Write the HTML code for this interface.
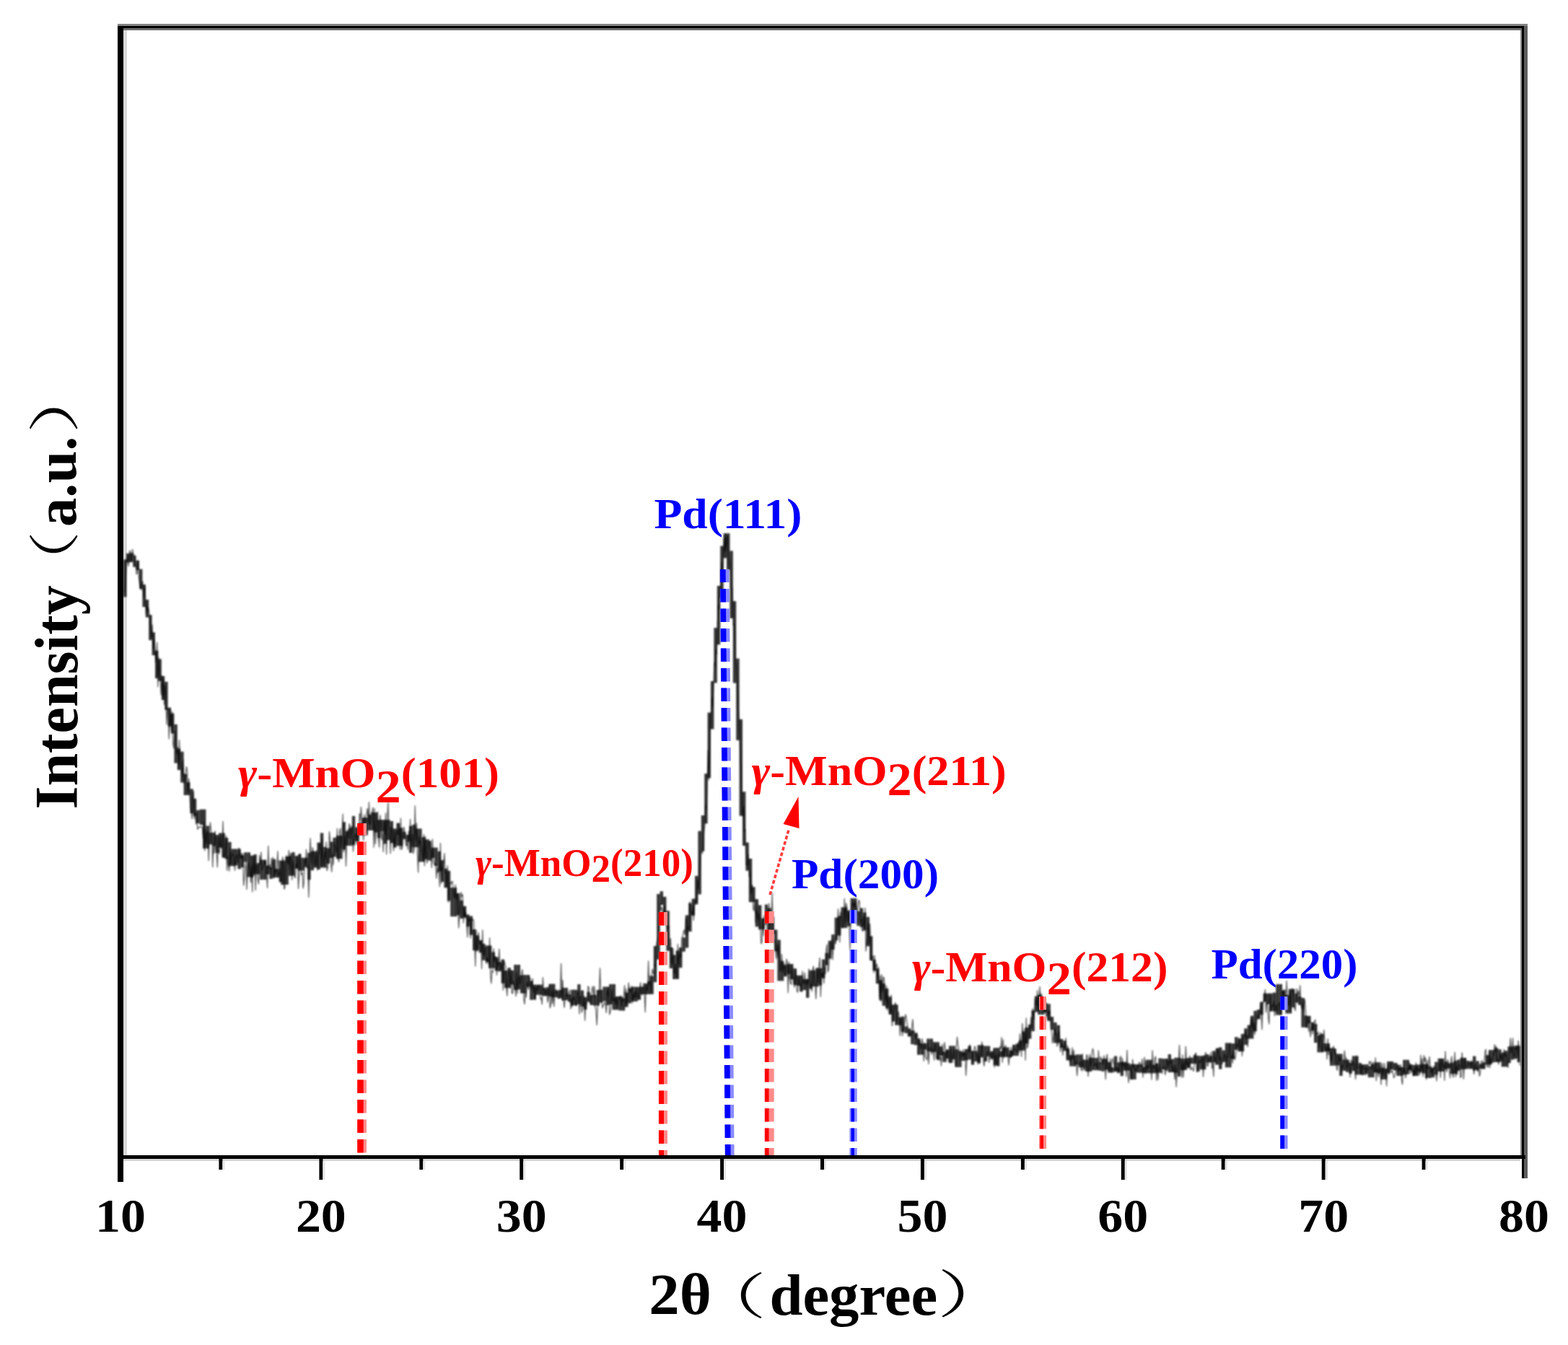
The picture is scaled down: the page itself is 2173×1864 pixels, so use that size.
<!DOCTYPE html>
<html><head><meta charset="utf-8"><style>
html,body{margin:0;padding:0;background:#fff;overflow:hidden}
svg{display:block}
text{font-family:"Liberation Serif","Noto Serif CJK SC",serif;font-weight:bold;fill:#000}
.r{fill:#ff0000}
.b{fill:#0000ff}
</style></head><body>
<svg width="2173" height="1864" viewBox="0 0 2173 1864">
<rect width="2173" height="1864" fill="#fff"/>

<rect x="163" y="36" width="1949" height="3" fill="#000"/>
<rect x="163" y="33" width="1954" height="3" fill="#848484"/>
<rect x="171" y="39" width="1938" height="3" fill="#6e6e6e"/>
<rect x="163" y="36" width="8" height="1602" fill="#000"/>
<rect x="171" y="42" width="5" height="1559" fill="#d9d9d9"/>
<rect x="2107" y="42" width="2" height="1559" fill="#8c8c8c"/>
<rect x="2109" y="36" width="3" height="1597" fill="#000"/>
<rect x="2112" y="36" width="5" height="1597" fill="#5e5e5e"/>
<rect x="163" y="1601" width="1951" height="5" fill="#000"/>
<rect x="171" y="1606" width="1936" height="3" fill="#d4d4d4"/>
<defs><filter id="bl" x="-1%" y="-5%" width="102%" height="110%"><feGaussianBlur stdDeviation="0.8"/></filter></defs><g fill="#000" fill-opacity="0.8" filter="url(#bl)"><rect x="171.0" y="775.4" width="4.4" height="51.9"/><rect x="175.4" y="767.2" width="4.4" height="12.3"/><rect x="179.8" y="766.3" width="4.4" height="12.5"/><rect x="184.2" y="770.1" width="4.4" height="15.6"/><rect x="188.6" y="776.6" width="4.4" height="13.4"/><rect x="193.0" y="788.7" width="4.4" height="27.3"/><rect x="197.4" y="810.0" width="4.4" height="31.2"/><rect x="201.8" y="831.1" width="4.4" height="24.5"/><rect x="206.2" y="852.2" width="4.4" height="35.0"/><rect x="210.6" y="876.3" width="4.4" height="31.8"/><rect x="215.0" y="901.8" width="4.4" height="38.3"/><rect x="219.4" y="913.3" width="4.4" height="30.6"/><rect x="223.8" y="936.9" width="4.4" height="33.2"/><rect x="228.2" y="944.8" width="4.4" height="39.0"/><rect x="232.6" y="980.6" width="4.4" height="26.1"/><rect x="237.0" y="988.7" width="4.4" height="27.8"/><rect x="241.4" y="1003.9" width="4.4" height="53.7"/><rect x="245.8" y="1037.5" width="4.4" height="29.6"/><rect x="250.2" y="1041.7" width="4.4" height="42.8"/><rect x="254.6" y="1072.6" width="4.4" height="29.4"/><rect x="259.0" y="1084.2" width="4.4" height="17.8"/><rect x="263.4" y="1093.3" width="4.4" height="33.8"/><rect x="267.8" y="1106.8" width="4.4" height="24.0"/><rect x="272.2" y="1122.8" width="4.4" height="18.1"/><rect x="276.6" y="1121.7" width="4.4" height="21.4"/><rect x="281.0" y="1121.7" width="4.4" height="54.2"/><rect x="285.4" y="1144.5" width="4.4" height="31.4"/><rect x="289.8" y="1153.9" width="4.4" height="16.3"/><rect x="294.2" y="1153.9" width="4.4" height="18.4"/><rect x="298.6" y="1157.0" width="4.4" height="25.0"/><rect x="303.0" y="1154.5" width="4.4" height="20.1"/><rect x="307.4" y="1154.5" width="4.4" height="33.9"/><rect x="311.8" y="1161.1" width="4.4" height="29.4"/><rect x="316.2" y="1166.9" width="4.4" height="33.4"/><rect x="320.6" y="1176.5" width="4.4" height="23.8"/><rect x="325.0" y="1176.5" width="4.4" height="22.9"/><rect x="329.4" y="1176.4" width="4.4" height="27.9"/><rect x="333.8" y="1185.3" width="4.4" height="16.9"/><rect x="338.2" y="1181.3" width="4.4" height="13.2"/><rect x="342.6" y="1181.3" width="4.4" height="34.1"/><rect x="347.0" y="1185.6" width="4.4" height="30.2"/><rect x="351.4" y="1184.1" width="4.4" height="27.4"/><rect x="355.8" y="1196.1" width="4.4" height="15.5"/><rect x="360.2" y="1191.5" width="4.4" height="27.6"/><rect x="364.6" y="1191.5" width="4.4" height="27.6"/><rect x="369.0" y="1199.5" width="4.4" height="12.4"/><rect x="373.4" y="1201.8" width="4.4" height="16.2"/><rect x="377.8" y="1190.7" width="4.4" height="25.5"/><rect x="382.2" y="1204.3" width="4.4" height="11.9"/><rect x="386.6" y="1192.5" width="4.4" height="29.8"/><rect x="391.0" y="1192.5" width="4.4" height="33.5"/><rect x="395.4" y="1187.0" width="4.4" height="39.0"/><rect x="399.8" y="1186.3" width="4.4" height="27.5"/><rect x="404.2" y="1181.1" width="4.4" height="32.4"/><rect x="408.6" y="1186.0" width="4.4" height="17.8"/><rect x="413.0" y="1183.7" width="4.4" height="22.9"/><rect x="417.4" y="1188.7" width="4.4" height="17.9"/><rect x="421.8" y="1188.7" width="4.4" height="13.2"/><rect x="426.2" y="1181.9" width="4.4" height="37.3"/><rect x="430.6" y="1179.7" width="4.4" height="26.5"/><rect x="435.0" y="1179.7" width="4.4" height="22.8"/><rect x="439.4" y="1167.7" width="4.4" height="37.3"/><rect x="443.8" y="1154.4" width="4.4" height="48.0"/><rect x="448.2" y="1173.8" width="4.4" height="28.7"/><rect x="452.6" y="1175.4" width="4.4" height="21.5"/><rect x="457.0" y="1166.5" width="4.4" height="22.5"/><rect x="461.4" y="1160.9" width="4.4" height="26.3"/><rect x="465.8" y="1158.1" width="4.4" height="32.1"/><rect x="470.2" y="1158.1" width="4.4" height="32.1"/><rect x="474.6" y="1139.2" width="4.4" height="38.3"/><rect x="479.0" y="1151.7" width="4.4" height="20.3"/><rect x="483.4" y="1147.3" width="4.4" height="24.8"/><rect x="487.8" y="1130.9" width="4.4" height="40.3"/><rect x="492.2" y="1146.5" width="4.4" height="19.8"/><rect x="496.6" y="1140.3" width="4.4" height="17.1"/><rect x="501.0" y="1133.2" width="4.4" height="24.2"/><rect x="505.4" y="1133.2" width="4.4" height="24.2"/><rect x="509.8" y="1128.9" width="4.4" height="22.0"/><rect x="514.2" y="1125.9" width="4.4" height="24.9"/><rect x="518.6" y="1125.9" width="4.4" height="27.7"/><rect x="523.0" y="1136.1" width="4.4" height="25.4"/><rect x="527.4" y="1136.1" width="4.4" height="16.1"/><rect x="531.8" y="1136.1" width="4.4" height="33.3"/><rect x="536.2" y="1136.1" width="4.4" height="28.2"/><rect x="540.6" y="1138.0" width="4.4" height="30.4"/><rect x="545.0" y="1148.3" width="4.4" height="26.4"/><rect x="549.4" y="1140.6" width="4.4" height="31.7"/><rect x="553.8" y="1147.2" width="4.4" height="25.1"/><rect x="558.2" y="1152.8" width="4.4" height="10.1"/><rect x="562.6" y="1156.8" width="4.4" height="10.0"/><rect x="567.0" y="1144.7" width="4.4" height="37.2"/><rect x="571.4" y="1142.8" width="4.4" height="31.3"/><rect x="575.8" y="1148.4" width="4.4" height="25.7"/><rect x="580.2" y="1148.4" width="4.4" height="46.0"/><rect x="584.6" y="1160.1" width="4.4" height="34.3"/><rect x="589.0" y="1163.3" width="4.4" height="27.5"/><rect x="593.4" y="1165.3" width="4.4" height="27.4"/><rect x="597.8" y="1174.7" width="4.4" height="14.3"/><rect x="602.2" y="1174.6" width="4.4" height="25.7"/><rect x="606.6" y="1179.8" width="4.4" height="27.7"/><rect x="611.0" y="1192.1" width="4.4" height="30.1"/><rect x="615.4" y="1203.7" width="4.4" height="26.6"/><rect x="619.8" y="1206.8" width="4.4" height="41.7"/><rect x="624.2" y="1230.1" width="4.4" height="40.1"/><rect x="628.6" y="1230.1" width="4.4" height="40.1"/><rect x="633.0" y="1237.8" width="4.4" height="30.7"/><rect x="637.4" y="1247.8" width="4.4" height="25.2"/><rect x="641.8" y="1255.7" width="4.4" height="15.6"/><rect x="646.2" y="1267.5" width="4.4" height="16.6"/><rect x="650.6" y="1269.5" width="4.4" height="26.2"/><rect x="655.0" y="1288.0" width="4.4" height="29.2"/><rect x="659.4" y="1296.3" width="4.4" height="20.9"/><rect x="663.8" y="1303.1" width="4.4" height="17.3"/><rect x="668.2" y="1307.9" width="4.4" height="22.9"/><rect x="672.6" y="1310.4" width="4.4" height="22.7"/><rect x="677.0" y="1310.4" width="4.4" height="31.4"/><rect x="681.4" y="1319.4" width="4.4" height="22.4"/><rect x="685.8" y="1326.2" width="4.4" height="19.3"/><rect x="690.2" y="1333.0" width="4.4" height="13.3"/><rect x="694.6" y="1329.6" width="4.4" height="33.2"/><rect x="699.0" y="1345.0" width="4.4" height="24.2"/><rect x="703.4" y="1341.2" width="4.4" height="27.9"/><rect x="707.8" y="1344.8" width="4.4" height="19.8"/><rect x="712.2" y="1337.0" width="4.4" height="35.0"/><rect x="716.6" y="1337.0" width="4.4" height="34.3"/><rect x="721.0" y="1351.4" width="4.4" height="25.2"/><rect x="725.4" y="1351.1" width="4.4" height="25.6"/><rect x="729.8" y="1351.1" width="4.4" height="16.6"/><rect x="734.2" y="1359.5" width="4.4" height="26.2"/><rect x="738.6" y="1364.6" width="4.4" height="21.0"/><rect x="743.0" y="1364.7" width="4.4" height="14.1"/><rect x="747.4" y="1364.7" width="4.4" height="14.1"/><rect x="751.8" y="1369.0" width="4.4" height="11.3"/><rect x="756.2" y="1368.2" width="4.4" height="12.1"/><rect x="760.6" y="1363.6" width="4.4" height="17.7"/><rect x="765.0" y="1363.6" width="4.4" height="18.3"/><rect x="769.4" y="1373.3" width="4.4" height="8.9"/><rect x="773.8" y="1371.9" width="4.4" height="11.7"/><rect x="778.2" y="1368.9" width="4.4" height="17.7"/><rect x="782.6" y="1368.9" width="4.4" height="17.3"/><rect x="787.0" y="1377.8" width="4.4" height="10.7"/><rect x="791.4" y="1371.6" width="4.4" height="21.8"/><rect x="795.8" y="1371.7" width="4.4" height="21.6"/><rect x="800.2" y="1364.1" width="4.4" height="27.7"/><rect x="804.6" y="1372.6" width="4.4" height="22.4"/><rect x="809.0" y="1381.9" width="4.4" height="17.1"/><rect x="813.4" y="1374.9" width="4.4" height="13.5"/><rect x="817.8" y="1378.8" width="4.4" height="14.2"/><rect x="822.2" y="1378.8" width="4.4" height="14.8"/><rect x="826.6" y="1371.9" width="4.4" height="21.7"/><rect x="831.0" y="1371.6" width="4.4" height="18.1"/><rect x="835.4" y="1367.5" width="4.4" height="20.1"/><rect x="839.8" y="1367.5" width="4.4" height="25.4"/><rect x="844.2" y="1363.9" width="4.4" height="28.1"/><rect x="848.6" y="1363.9" width="4.4" height="35.6"/><rect x="853.0" y="1381.0" width="4.4" height="18.5"/><rect x="857.4" y="1381.0" width="4.4" height="19.5"/><rect x="861.8" y="1383.4" width="4.4" height="17.2"/><rect x="866.2" y="1375.6" width="4.4" height="19.9"/><rect x="870.6" y="1369.5" width="4.4" height="21.0"/><rect x="875.0" y="1367.6" width="4.4" height="20.3"/><rect x="879.4" y="1367.6" width="4.4" height="20.3"/><rect x="883.8" y="1367.8" width="4.4" height="17.9"/><rect x="888.2" y="1367.5" width="4.4" height="10.5"/><rect x="892.6" y="1362.9" width="4.4" height="15.1"/><rect x="897.0" y="1359.8" width="4.4" height="18.1"/><rect x="901.4" y="1352.6" width="4.4" height="25.2"/><rect x="905.8" y="1311.1" width="4.4" height="50.1"/><rect x="910.2" y="1239.0" width="4.4" height="90.7"/><rect x="914.6" y="1235.2" width="4.4" height="18.8"/><rect x="919.0" y="1242.8" width="4.4" height="30.4"/><rect x="923.4" y="1262.3" width="4.4" height="55.5"/><rect x="927.8" y="1313.0" width="4.4" height="29.0"/><rect x="932.2" y="1323.4" width="4.4" height="33.6"/><rect x="936.6" y="1317.4" width="4.4" height="39.5"/><rect x="941.0" y="1313.2" width="4.4" height="28.0"/><rect x="945.4" y="1299.2" width="4.4" height="19.6"/><rect x="949.8" y="1268.3" width="4.4" height="45.2"/><rect x="954.2" y="1251.6" width="4.4" height="39.5"/><rect x="958.6" y="1245.5" width="4.4" height="23.2"/><rect x="963.0" y="1213.9" width="4.4" height="39.4"/><rect x="967.4" y="1151.7" width="4.4" height="87.7"/><rect x="971.8" y="1130.0" width="4.4" height="49.7"/><rect x="976.2" y="1072.2" width="4.4" height="69.2"/><rect x="980.6" y="987.5" width="4.4" height="90.8"/><rect x="985.0" y="944.1" width="4.4" height="66.4"/><rect x="989.4" y="870.1" width="4.4" height="76.3"/><rect x="993.8" y="811.9" width="4.4" height="81.4"/><rect x="998.2" y="756.6" width="4.4" height="72.0"/><rect x="1002.6" y="739.1" width="4.4" height="34.3"/><rect x="1007.0" y="739.1" width="4.4" height="50.6"/><rect x="1011.4" y="763.4" width="4.4" height="93.5"/><rect x="1015.8" y="833.1" width="4.4" height="113.5"/><rect x="1020.2" y="912.6" width="4.4" height="113.3"/><rect x="1024.6" y="996.8" width="4.4" height="133.9"/><rect x="1029.0" y="1097.2" width="4.4" height="74.9"/><rect x="1033.4" y="1167.6" width="4.4" height="39.1"/><rect x="1037.8" y="1190.0" width="4.4" height="60.2"/><rect x="1042.2" y="1229.3" width="4.4" height="20.9"/><rect x="1046.6" y="1246.1" width="4.4" height="38.2"/><rect x="1051.0" y="1254.4" width="4.4" height="33.8"/><rect x="1055.4" y="1272.5" width="4.4" height="15.6"/><rect x="1059.8" y="1253.5" width="4.4" height="19.9"/><rect x="1064.2" y="1258.4" width="4.4" height="32.0"/><rect x="1068.6" y="1270.5" width="4.4" height="24.0"/><rect x="1073.0" y="1288.5" width="4.4" height="29.8"/><rect x="1077.4" y="1302.5" width="4.4" height="56.9"/><rect x="1081.8" y="1331.7" width="4.4" height="27.7"/><rect x="1086.2" y="1337.3" width="4.4" height="15.8"/><rect x="1090.6" y="1335.9" width="4.4" height="14.0"/><rect x="1095.0" y="1335.9" width="4.4" height="21.4"/><rect x="1099.4" y="1342.1" width="4.4" height="23.1"/><rect x="1103.8" y="1351.7" width="4.4" height="14.3"/><rect x="1108.2" y="1351.7" width="4.4" height="22.7"/><rect x="1112.6" y="1357.1" width="4.4" height="15.0"/><rect x="1117.0" y="1357.1" width="4.4" height="25.7"/><rect x="1121.4" y="1344.7" width="4.4" height="25.9"/><rect x="1125.8" y="1344.7" width="4.4" height="22.6"/><rect x="1130.2" y="1341.7" width="4.4" height="25.6"/><rect x="1134.6" y="1341.7" width="4.4" height="24.0"/><rect x="1139.0" y="1329.6" width="4.4" height="26.1"/><rect x="1143.4" y="1320.7" width="4.4" height="16.9"/><rect x="1147.8" y="1303.8" width="4.4" height="24.9"/><rect x="1152.2" y="1295.1" width="4.4" height="20.8"/><rect x="1156.6" y="1271.7" width="4.4" height="31.6"/><rect x="1161.0" y="1269.4" width="4.4" height="27.2"/><rect x="1165.4" y="1257.4" width="4.4" height="28.6"/><rect x="1169.8" y="1257.4" width="4.4" height="28.6"/><rect x="1174.2" y="1261.6" width="4.4" height="22.0"/><rect x="1178.6" y="1244.9" width="4.4" height="30.6"/><rect x="1183.0" y="1244.9" width="4.4" height="34.2"/><rect x="1187.4" y="1263.0" width="4.4" height="20.1"/><rect x="1191.8" y="1258.5" width="4.4" height="26.4"/><rect x="1196.2" y="1264.6" width="4.4" height="25.0"/><rect x="1200.6" y="1270.8" width="4.4" height="40.5"/><rect x="1205.0" y="1297.3" width="4.4" height="33.6"/><rect x="1209.4" y="1330.1" width="4.4" height="15.1"/><rect x="1213.8" y="1342.4" width="4.4" height="20.9"/><rect x="1218.2" y="1358.4" width="4.4" height="27.8"/><rect x="1222.6" y="1363.2" width="4.4" height="30.7"/><rect x="1227.0" y="1370.0" width="4.4" height="27.6"/><rect x="1231.4" y="1381.3" width="4.4" height="24.6"/><rect x="1235.8" y="1392.3" width="4.4" height="23.3"/><rect x="1240.2" y="1392.3" width="4.4" height="28.5"/><rect x="1244.6" y="1409.6" width="4.4" height="11.3"/><rect x="1249.0" y="1408.7" width="4.4" height="21.4"/><rect x="1253.4" y="1422.4" width="4.4" height="9.5"/><rect x="1257.8" y="1425.4" width="4.4" height="11.1"/><rect x="1262.2" y="1428.1" width="4.4" height="19.1"/><rect x="1266.6" y="1431.9" width="4.4" height="16.4"/><rect x="1271.0" y="1439.2" width="4.4" height="22.6"/><rect x="1275.4" y="1446.1" width="4.4" height="15.6"/><rect x="1279.8" y="1446.1" width="4.4" height="8.4"/><rect x="1284.2" y="1439.5" width="4.4" height="17.5"/><rect x="1288.6" y="1439.5" width="4.4" height="18.3"/><rect x="1293.0" y="1444.1" width="4.4" height="13.7"/><rect x="1297.4" y="1444.1" width="4.4" height="24.4"/><rect x="1301.8" y="1450.2" width="4.4" height="12.8"/><rect x="1306.2" y="1457.6" width="4.4" height="14.2"/><rect x="1310.6" y="1454.9" width="4.4" height="12.2"/><rect x="1315.0" y="1449.4" width="4.4" height="23.8"/><rect x="1319.4" y="1449.4" width="4.4" height="18.7"/><rect x="1323.8" y="1454.2" width="4.4" height="24.7"/><rect x="1328.2" y="1456.4" width="4.4" height="22.5"/><rect x="1332.6" y="1458.5" width="4.4" height="11.6"/><rect x="1337.0" y="1453.9" width="4.4" height="15.6"/><rect x="1341.4" y="1449.5" width="4.4" height="19.0"/><rect x="1345.8" y="1456.4" width="4.4" height="19.3"/><rect x="1350.2" y="1456.4" width="4.4" height="14.8"/><rect x="1354.6" y="1448.4" width="4.4" height="24.8"/><rect x="1359.0" y="1448.4" width="4.4" height="16.9"/><rect x="1363.4" y="1449.6" width="4.4" height="21.1"/><rect x="1367.8" y="1449.6" width="4.4" height="14.6"/><rect x="1372.2" y="1456.8" width="4.4" height="10.6"/><rect x="1376.6" y="1452.2" width="4.4" height="24.4"/><rect x="1381.0" y="1452.2" width="4.4" height="25.3"/><rect x="1385.4" y="1456.7" width="4.4" height="8.2"/><rect x="1389.8" y="1451.5" width="4.4" height="13.3"/><rect x="1394.2" y="1451.5" width="4.4" height="13.5"/><rect x="1398.6" y="1455.6" width="4.4" height="9.4"/><rect x="1403.0" y="1447.8" width="4.4" height="15.4"/><rect x="1407.4" y="1446.7" width="4.4" height="16.5"/><rect x="1411.8" y="1441.8" width="4.4" height="14.1"/><rect x="1416.2" y="1429.4" width="4.4" height="26.5"/><rect x="1420.6" y="1423.9" width="4.4" height="22.5"/><rect x="1425.0" y="1419.8" width="4.4" height="19.8"/><rect x="1429.4" y="1400.6" width="4.4" height="28.6"/><rect x="1433.8" y="1380.6" width="4.4" height="22.0"/><rect x="1438.2" y="1378.5" width="4.4" height="27.7"/><rect x="1442.6" y="1381.9" width="4.4" height="24.3"/><rect x="1447.0" y="1390.1" width="4.4" height="12.8"/><rect x="1451.4" y="1391.3" width="4.4" height="23.6"/><rect x="1455.8" y="1409.2" width="4.4" height="18.1"/><rect x="1460.2" y="1417.0" width="4.4" height="28.5"/><rect x="1464.6" y="1420.8" width="4.4" height="24.6"/><rect x="1469.0" y="1439.9" width="4.4" height="12.1"/><rect x="1473.4" y="1442.3" width="4.4" height="14.1"/><rect x="1477.8" y="1452.8" width="4.4" height="16.8"/><rect x="1482.2" y="1462.0" width="4.4" height="15.7"/><rect x="1486.6" y="1462.4" width="4.4" height="15.4"/><rect x="1491.0" y="1461.4" width="4.4" height="14.3"/><rect x="1495.4" y="1461.4" width="4.4" height="17.9"/><rect x="1499.8" y="1468.6" width="4.4" height="10.6"/><rect x="1504.2" y="1468.6" width="4.4" height="16.5"/><rect x="1508.6" y="1465.5" width="4.4" height="19.6"/><rect x="1513.0" y="1466.0" width="4.4" height="17.2"/><rect x="1517.4" y="1466.1" width="4.4" height="17.2"/><rect x="1521.8" y="1471.7" width="4.4" height="12.0"/><rect x="1526.2" y="1467.4" width="4.4" height="17.4"/><rect x="1530.6" y="1467.4" width="4.4" height="15.3"/><rect x="1535.0" y="1471.9" width="4.4" height="14.5"/><rect x="1539.4" y="1479.2" width="4.4" height="7.1"/><rect x="1543.8" y="1463.6" width="4.4" height="21.0"/><rect x="1548.2" y="1472.2" width="4.4" height="13.9"/><rect x="1552.6" y="1471.6" width="4.4" height="19.6"/><rect x="1557.0" y="1471.6" width="4.4" height="12.2"/><rect x="1561.4" y="1473.4" width="4.4" height="10.3"/><rect x="1565.8" y="1474.7" width="4.4" height="21.3"/><rect x="1570.2" y="1474.7" width="4.4" height="21.3"/><rect x="1574.6" y="1475.2" width="4.4" height="11.4"/><rect x="1579.0" y="1475.2" width="4.4" height="11.6"/><rect x="1583.4" y="1478.8" width="4.4" height="8.3"/><rect x="1587.8" y="1468.7" width="4.4" height="18.5"/><rect x="1592.2" y="1468.7" width="4.4" height="18.7"/><rect x="1596.6" y="1475.7" width="4.4" height="11.7"/><rect x="1601.0" y="1473.7" width="4.4" height="13.0"/><rect x="1605.4" y="1466.6" width="4.4" height="20.1"/><rect x="1609.8" y="1467.2" width="4.4" height="14.8"/><rect x="1614.2" y="1467.2" width="4.4" height="16.4"/><rect x="1618.6" y="1461.1" width="4.4" height="25.0"/><rect x="1623.0" y="1467.7" width="4.4" height="18.3"/><rect x="1627.4" y="1465.8" width="4.4" height="21.3"/><rect x="1631.8" y="1465.8" width="4.4" height="26.1"/><rect x="1636.2" y="1467.1" width="4.4" height="15.9"/><rect x="1640.6" y="1467.1" width="4.4" height="15.9"/><rect x="1645.0" y="1466.1" width="4.4" height="13.7"/><rect x="1649.4" y="1465.7" width="4.4" height="8.6"/><rect x="1653.8" y="1462.0" width="4.4" height="12.2"/><rect x="1658.2" y="1463.1" width="4.4" height="22.1"/><rect x="1662.6" y="1463.3" width="4.4" height="18.9"/><rect x="1667.0" y="1462.6" width="4.4" height="19.6"/><rect x="1671.4" y="1461.3" width="4.4" height="11.3"/><rect x="1675.8" y="1463.4" width="4.4" height="9.2"/><rect x="1680.2" y="1456.4" width="4.4" height="15.8"/><rect x="1684.6" y="1452.9" width="4.4" height="22.7"/><rect x="1689.0" y="1451.4" width="4.4" height="30.3"/><rect x="1693.4" y="1455.5" width="4.4" height="16.4"/><rect x="1697.8" y="1445.4" width="4.4" height="33.9"/><rect x="1702.2" y="1445.4" width="4.4" height="33.9"/><rect x="1706.6" y="1446.1" width="4.4" height="21.5"/><rect x="1711.0" y="1437.2" width="4.4" height="17.7"/><rect x="1715.4" y="1439.4" width="4.4" height="17.9"/><rect x="1719.8" y="1432.9" width="4.4" height="24.3"/><rect x="1724.2" y="1425.3" width="4.4" height="22.8"/><rect x="1728.6" y="1420.6" width="4.4" height="18.9"/><rect x="1733.0" y="1407.8" width="4.4" height="31.7"/><rect x="1737.4" y="1400.8" width="4.4" height="28.5"/><rect x="1741.8" y="1399.2" width="4.4" height="13.2"/><rect x="1746.2" y="1388.4" width="4.4" height="17.9"/><rect x="1750.6" y="1376.6" width="4.4" height="11.9"/><rect x="1755.0" y="1376.7" width="4.4" height="14.9"/><rect x="1759.4" y="1376.7" width="4.4" height="24.9"/><rect x="1763.8" y="1375.6" width="4.4" height="25.9"/><rect x="1768.2" y="1363.9" width="4.4" height="42.8"/><rect x="1772.6" y="1363.9" width="4.4" height="42.8"/><rect x="1777.0" y="1372.3" width="4.4" height="16.2"/><rect x="1781.4" y="1378.9" width="4.4" height="25.6"/><rect x="1785.8" y="1370.6" width="4.4" height="33.9"/><rect x="1790.2" y="1370.6" width="4.4" height="25.7"/><rect x="1794.6" y="1376.7" width="4.4" height="12.9"/><rect x="1799.0" y="1381.1" width="4.4" height="11.7"/><rect x="1803.4" y="1382.9" width="4.4" height="40.9"/><rect x="1807.8" y="1407.5" width="4.4" height="16.4"/><rect x="1812.2" y="1407.9" width="4.4" height="10.3"/><rect x="1816.6" y="1416.8" width="4.4" height="11.6"/><rect x="1821.0" y="1419.0" width="4.4" height="26.1"/><rect x="1825.4" y="1435.0" width="4.4" height="23.4"/><rect x="1829.8" y="1432.7" width="4.4" height="25.7"/><rect x="1834.2" y="1446.0" width="4.4" height="11.5"/><rect x="1838.6" y="1446.0" width="4.4" height="11.0"/><rect x="1843.0" y="1452.4" width="4.4" height="24.5"/><rect x="1847.4" y="1453.1" width="4.4" height="23.7"/><rect x="1851.8" y="1460.5" width="4.4" height="16.1"/><rect x="1856.2" y="1460.5" width="4.4" height="30.5"/><rect x="1860.6" y="1468.4" width="4.4" height="15.5"/><rect x="1865.0" y="1468.4" width="4.4" height="17.4"/><rect x="1869.4" y="1473.0" width="4.4" height="15.0"/><rect x="1873.8" y="1463.5" width="4.4" height="20.7"/><rect x="1878.2" y="1463.5" width="4.4" height="25.9"/><rect x="1882.6" y="1473.1" width="4.4" height="16.3"/><rect x="1887.0" y="1475.1" width="4.4" height="14.8"/><rect x="1891.4" y="1475.1" width="4.4" height="13.2"/><rect x="1895.8" y="1477.6" width="4.4" height="15.5"/><rect x="1900.2" y="1474.6" width="4.4" height="18.5"/><rect x="1904.6" y="1472.2" width="4.4" height="14.0"/><rect x="1909.0" y="1472.2" width="4.4" height="15.3"/><rect x="1913.4" y="1479.8" width="4.4" height="16.2"/><rect x="1917.8" y="1480.8" width="4.4" height="15.1"/><rect x="1922.2" y="1471.0" width="4.4" height="16.4"/><rect x="1926.6" y="1471.0" width="4.4" height="11.0"/><rect x="1931.0" y="1473.0" width="4.4" height="10.6"/><rect x="1935.4" y="1475.6" width="4.4" height="15.4"/><rect x="1939.8" y="1478.8" width="4.4" height="12.2"/><rect x="1944.2" y="1468.8" width="4.4" height="20.6"/><rect x="1948.6" y="1468.8" width="4.4" height="20.0"/><rect x="1953.0" y="1475.2" width="4.4" height="8.1"/><rect x="1957.4" y="1475.9" width="4.4" height="15.2"/><rect x="1961.8" y="1475.4" width="4.4" height="15.6"/><rect x="1966.2" y="1475.4" width="4.4" height="10.9"/><rect x="1970.6" y="1474.7" width="4.4" height="13.0"/><rect x="1975.0" y="1474.7" width="4.4" height="19.3"/><rect x="1979.4" y="1477.6" width="4.4" height="16.4"/><rect x="1983.8" y="1480.0" width="4.4" height="13.2"/><rect x="1988.2" y="1471.7" width="4.4" height="17.7"/><rect x="1992.6" y="1466.9" width="4.4" height="18.1"/><rect x="1997.0" y="1466.9" width="4.4" height="18.1"/><rect x="2001.4" y="1471.4" width="4.4" height="10.2"/><rect x="2005.8" y="1473.4" width="4.4" height="7.4"/><rect x="2010.2" y="1472.6" width="4.4" height="15.6"/><rect x="2014.6" y="1470.2" width="4.4" height="18.0"/><rect x="2019.0" y="1468.6" width="4.4" height="15.2"/><rect x="2023.4" y="1466.1" width="4.4" height="15.8"/><rect x="2027.8" y="1466.1" width="4.4" height="15.8"/><rect x="2032.2" y="1470.1" width="4.4" height="11.2"/><rect x="2036.6" y="1471.1" width="4.4" height="10.3"/><rect x="2041.0" y="1463.7" width="4.4" height="19.7"/><rect x="2045.4" y="1470.4" width="4.4" height="12.9"/><rect x="2049.8" y="1474.6" width="4.4" height="6.4"/><rect x="2054.2" y="1472.2" width="4.4" height="9.2"/><rect x="2058.6" y="1462.2" width="4.4" height="13.4"/><rect x="2063.0" y="1455.1" width="4.4" height="20.4"/><rect x="2067.4" y="1455.1" width="4.4" height="17.2"/><rect x="2071.8" y="1452.3" width="4.4" height="19.6"/><rect x="2076.2" y="1454.3" width="4.4" height="17.5"/><rect x="2080.6" y="1458.5" width="4.4" height="19.9"/><rect x="2085.0" y="1456.2" width="4.4" height="22.2"/><rect x="2089.4" y="1450.3" width="4.4" height="22.9"/><rect x="2093.8" y="1450.3" width="4.4" height="18.3"/><rect x="2098.2" y="1449.2" width="4.4" height="18.3"/><rect x="2102.6" y="1449.2" width="4.4" height="23.0"/><polyline points="171.5,821.2 172.6,817.8 173.7,813.6 174.8,789.4 175.9,766.6 177.0,777.6 178.1,785.0 179.2,766.1 180.3,762.8 181.4,779.7 182.5,771.9 183.6,761.1 184.7,769.5 185.8,768.5 186.9,781.6 188.0,782.7 189.1,795.6 190.2,794.8 191.3,777.1 192.4,800.3 193.5,809.6 194.6,809.4 195.7,818.3 196.8,806.4 197.9,806.0 199.0,828.1 200.1,815.0 201.2,813.8 202.3,851.2 203.4,839.0 204.5,846.9 205.6,841.8 206.7,848.9 207.8,857.3 208.9,871.3 210.0,884.6 211.1,865.5 212.2,900.1 213.3,886.7 214.4,892.3 215.5,918.5 216.6,910.3 217.7,889.9 218.8,952.3 219.9,910.7 221.0,934.2 222.1,938.0 223.2,963.3 224.3,936.0 225.4,965.7 226.5,940.4 227.6,977.0 228.7,949.4 229.8,960.9 230.9,1004.2 232.0,981.9 233.1,983.2 234.2,1024.5 235.3,997.3 236.4,982.0 237.5,1013.5 238.6,985.8 239.7,1030.5 240.8,1037.4 241.9,1012.9 243.0,1019.1 244.1,1040.7 245.2,1045.5 246.3,1035.1 247.4,1066.2 248.5,1025.2 249.6,1055.8 250.7,1059.1 251.8,1063.8 252.9,1076.2 254.0,1052.5 255.1,1086.2 256.2,1076.1 257.3,1071.2 258.4,1062.2 259.5,1068.6 260.6,1098.3 261.7,1079.0 262.8,1099.9 263.9,1120.3 265.0,1123.0 266.1,1135.2 267.2,1106.5 268.3,1096.0 269.4,1135.0 270.5,1125.9 271.6,1142.8 272.7,1126.7 273.8,1149.8 274.9,1146.5 276.0,1146.9 277.1,1145.7 278.2,1146.2 279.3,1145.6 280.4,1147.6 281.5,1162.7 282.6,1139.1 283.7,1179.5 284.8,1149.8 285.9,1170.3 287.0,1153.7 288.1,1152.6 289.2,1193.2 290.3,1154.6 291.4,1139.4 292.5,1150.4 293.6,1158.4 294.7,1201.9 295.8,1169.7 296.9,1183.3 298.0,1151.3 299.1,1175.5 300.2,1182.0 301.3,1202.3 302.4,1160.5 303.5,1183.7 304.6,1179.5 305.7,1157.7 306.8,1175.7 307.9,1172.4 309.0,1137.9 310.1,1188.7 311.2,1188.5 312.3,1172.5 313.4,1157.9 314.5,1206.8 315.6,1186.7 316.7,1200.2 317.8,1207.6 318.9,1175.2 320.0,1198.7 321.1,1181.2 322.2,1184.9 323.3,1185.1 324.4,1187.1 325.5,1206.7 326.6,1190.3 327.7,1186.1 328.8,1184.5 329.9,1195.6 331.0,1174.9 332.1,1182.2 333.2,1190.4 334.3,1182.1 335.4,1190.3 336.5,1182.4 337.6,1227.6 338.7,1216.6 339.8,1202.1 340.9,1194.1 342.0,1233.0 343.1,1201.7 344.2,1195.3 345.3,1202.7 346.4,1203.5 347.5,1223.2 348.6,1199.5 349.7,1236.5 350.8,1186.2 351.9,1213.9 353.0,1185.5 354.1,1234.2 355.2,1197.9 356.3,1202.9 357.4,1219.9 358.5,1225.6 359.6,1185.3 360.7,1198.5 361.8,1180.6 362.9,1206.9 364.0,1202.9 365.1,1198.7 366.2,1193.0 367.3,1198.2 368.4,1192.1 369.5,1214.0 370.6,1230.9 371.7,1172.0 372.8,1203.1 373.9,1198.0 375.0,1213.7 376.1,1189.0 377.2,1202.9 378.3,1187.7 379.4,1217.4 380.5,1207.3 381.6,1202.9 382.7,1212.0 383.8,1201.6 384.9,1179.3 386.0,1216.1 387.1,1210.8 388.2,1203.3 389.3,1222.8 390.4,1226.8 391.5,1187.3 392.6,1192.6 393.7,1232.4 394.8,1230.1 395.9,1193.1 397.0,1185.4 398.1,1194.6 399.2,1196.8 400.3,1178.0 401.4,1205.4 402.5,1182.7 403.6,1183.7 404.7,1219.8 405.8,1192.2 406.9,1202.4 408.0,1214.1 409.1,1217.0 410.2,1197.1 411.3,1203.4 412.4,1188.2 413.5,1231.9 414.6,1212.9 415.7,1182.6 416.8,1201.3 417.9,1213.1 419.0,1208.7 420.1,1231.5 421.2,1223.4 422.3,1190.3 423.4,1197.7 424.5,1176.9 425.6,1202.7 426.7,1200.7 427.8,1244.0 428.9,1199.0 430.0,1161.2 431.1,1185.1 432.2,1198.1 433.3,1174.3 434.4,1180.5 435.5,1188.7 436.6,1200.3 437.7,1191.2 438.8,1178.3 439.9,1206.5 441.0,1183.3 442.1,1183.4 443.2,1167.8 444.3,1177.4 445.4,1201.4 446.5,1161.9 447.6,1187.6 448.7,1200.3 449.8,1180.8 450.9,1190.5 452.0,1166.5 453.1,1207.1 454.2,1202.7 455.3,1187.0 456.4,1152.1 457.5,1163.3 458.6,1197.0 459.7,1208.7 460.8,1183.7 461.9,1199.1 463.0,1166.6 464.1,1173.0 465.2,1175.4 466.3,1181.9 467.4,1147.8 468.5,1189.2 469.6,1195.0 470.7,1152.0 471.8,1147.7 472.9,1176.0 474.0,1158.0 475.1,1127.8 476.2,1181.3 477.3,1169.2 478.4,1157.4 479.5,1200.7 480.6,1165.7 481.7,1149.2 482.8,1162.4 483.9,1141.4 485.0,1144.7 486.1,1162.8 487.2,1145.2 488.3,1145.5 489.4,1180.4 490.5,1165.2 491.6,1163.1 492.7,1157.3 493.8,1155.6 494.9,1171.2 496.0,1145.0 497.1,1176.0 498.2,1127.1 499.3,1138.1 500.4,1118.1 501.5,1135.1 502.6,1149.4 503.7,1165.0 504.8,1128.7 505.9,1140.1 507.0,1134.0 508.1,1127.6 509.2,1120.1 510.3,1141.6 511.4,1111.2 512.5,1143.0 513.6,1141.8 514.7,1130.5 515.8,1124.8 516.9,1118.8 518.0,1174.8 519.1,1120.2 520.2,1170.1 521.3,1154.1 522.4,1137.9 523.5,1124.6 524.6,1162.6 525.7,1174.6 526.8,1129.4 527.9,1140.6 529.0,1164.1 530.1,1152.2 531.2,1181.0 532.3,1137.4 533.4,1156.8 534.5,1126.6 535.6,1184.2 536.7,1136.3 537.8,1111.4 538.9,1147.4 540.0,1147.6 541.1,1183.2 542.2,1145.1 543.3,1151.2 544.4,1162.1 545.5,1179.6 546.6,1151.9 547.7,1171.4 548.8,1163.0 549.9,1149.6 551.0,1156.6 552.1,1156.3 553.2,1140.7 554.3,1177.6 555.4,1133.6 556.5,1177.8 557.6,1174.6 558.7,1157.0 559.8,1145.9 560.9,1155.5 562.0,1167.8 563.1,1172.8 564.2,1165.3 565.3,1177.7 566.4,1151.5 567.5,1165.4 568.6,1134.9 569.7,1175.1 570.8,1165.1 571.9,1155.8 573.0,1183.2 574.1,1175.6 575.2,1116.2 576.3,1165.6 577.4,1140.6 578.5,1184.4 579.6,1209.5 580.7,1158.8 581.8,1169.7 582.9,1164.9 584.0,1176.1 585.1,1182.0 586.2,1193.9 587.3,1155.9 588.4,1200.6 589.5,1158.8 590.6,1180.4 591.7,1196.5 592.8,1189.9 593.9,1162.8 595.0,1167.9 596.1,1173.1 597.2,1181.3 598.3,1203.0 599.4,1162.5 600.5,1193.9 601.6,1197.7 602.7,1198.2 603.8,1198.1 604.9,1217.6 606.0,1201.6 607.1,1209.6 608.2,1206.3 609.3,1229.2 610.4,1168.1 611.5,1224.9 612.6,1201.1 613.7,1203.5 614.8,1194.6 615.9,1182.2 617.0,1210.2 618.1,1207.6 619.2,1230.1 620.3,1199.6 621.4,1250.7 622.5,1233.9 623.6,1227.8 624.7,1222.7 625.8,1223.9 626.9,1220.8 628.0,1232.9 629.1,1244.2 630.2,1243.5 631.3,1225.7 632.4,1246.5 633.5,1238.4 634.6,1257.3 635.7,1286.5 636.8,1268.5 637.9,1255.4 639.0,1236.4 640.1,1241.8 641.2,1239.4 642.3,1279.4 643.4,1257.8 644.5,1272.7 645.6,1263.9 646.7,1277.1 647.8,1299.4 648.9,1269.2 650.0,1276.8 651.1,1272.2 652.2,1300.6 653.3,1274.3 654.4,1275.3 655.5,1274.0 656.6,1276.0 657.7,1306.3 658.8,1339.6 659.9,1288.3 661.0,1319.1 662.1,1310.4 663.2,1292.1 664.3,1306.0 665.4,1308.3 666.5,1303.2 667.6,1343.1 668.7,1288.6 669.8,1323.4 670.9,1324.1 672.0,1312.3 673.1,1324.2 674.2,1336.0 675.3,1326.9 676.4,1332.0 677.5,1337.1 678.6,1299.5 679.7,1350.7 680.8,1363.1 681.9,1345.8 683.0,1347.3 684.1,1314.2 685.2,1333.5 686.3,1324.8 687.4,1329.0 688.5,1351.8 689.6,1328.1 690.7,1338.6 691.8,1314.9 692.9,1340.3 694.0,1344.8 695.1,1334.8 696.2,1335.7 697.3,1372.7 698.4,1331.1 699.5,1334.4 700.6,1338.7 701.7,1367.2 702.8,1380.4 703.9,1357.3 705.0,1343.9 706.1,1348.8 707.2,1369.8 708.3,1343.9 709.4,1376.5 710.5,1376.7 711.6,1359.3 712.7,1367.7 713.8,1369.7 714.9,1381.1 716.0,1346.8 717.1,1377.2 718.2,1357.0 719.3,1352.3 720.4,1364.4 721.5,1360.7 722.6,1351.0 723.7,1343.4 724.8,1352.6 725.9,1384.8 727.0,1392.0 728.1,1375.0 729.2,1382.5 730.3,1360.5 731.4,1366.7 732.5,1371.8 733.6,1354.2 734.7,1355.8 735.8,1370.4 736.9,1365.3 738.0,1355.9 739.1,1375.3 740.2,1367.1 741.3,1384.4 742.4,1371.3 743.5,1367.9 744.6,1373.9 745.7,1370.5 746.8,1364.6 747.9,1368.6 749.0,1384.1 750.1,1383.4 751.2,1392.3 752.3,1354.3 753.4,1371.7 754.5,1372.0 755.6,1380.1 756.7,1372.6 757.8,1372.3 758.9,1389.3 760.0,1381.9 761.1,1364.9 762.2,1397.2 763.3,1393.1 764.4,1373.1 765.5,1391.3 766.6,1371.3 767.7,1395.3 768.8,1378.2 769.9,1370.8 771.0,1376.4 772.1,1371.5 773.2,1383.9 774.3,1383.8 775.4,1382.1 776.5,1374.6 777.6,1335.0 778.7,1383.2 779.8,1357.9 780.9,1385.3 782.0,1396.8 783.1,1386.0 784.2,1377.7 785.3,1380.5 786.4,1381.2 787.5,1376.1 788.6,1375.8 789.7,1371.6 790.8,1398.6 791.9,1383.4 793.0,1395.9 794.1,1380.7 795.2,1384.9 796.3,1381.9 797.4,1390.0 798.5,1394.7 799.6,1387.3 800.7,1375.8 801.8,1374.5 802.9,1405.6 804.0,1381.1 805.1,1381.0 806.2,1403.4 807.3,1398.6 808.4,1391.6 809.5,1379.8 810.6,1414.8 811.7,1390.0 812.8,1391.9 813.9,1382.8 815.0,1367.0 816.1,1368.1 817.2,1390.2 818.3,1390.0 819.4,1382.0 820.5,1370.1 821.6,1366.7 822.7,1380.8 823.8,1366.5 824.9,1396.4 826.0,1399.6 827.1,1420.9 828.2,1396.1 829.3,1377.5 830.4,1373.9 831.5,1341.2 832.6,1377.5 833.7,1382.8 834.8,1397.4 835.9,1393.0 837.0,1392.7 838.1,1388.1 839.2,1393.8 840.3,1403.9 841.4,1372.1 842.5,1379.9 843.6,1368.2 844.7,1406.4 845.8,1402.4 846.9,1395.5 848.0,1370.8 849.1,1388.2 850.2,1383.0 851.3,1387.0 852.4,1383.5 853.5,1392.4 854.6,1380.7 855.7,1396.4 856.8,1388.5 857.9,1381.6 859.0,1383.7 860.1,1379.4 861.2,1395.1 862.3,1381.2 863.4,1388.2 864.5,1379.3 865.6,1365.2 866.7,1395.4 867.8,1370.2 868.9,1392.0 870.0,1388.5 871.1,1361.7 872.2,1370.4 873.3,1375.5 874.4,1371.2 875.5,1366.2 876.6,1390.3 877.7,1377.3 878.8,1384.9 879.9,1373.9 881.0,1382.9 882.1,1368.8 883.2,1377.6 884.3,1384.9 885.4,1377.4 886.5,1370.2 887.6,1361.4 888.7,1377.0 889.8,1378.6 890.9,1369.9 892.0,1362.4 893.1,1378.6 894.2,1403.0 895.3,1365.5 896.4,1372.7 897.5,1372.0 898.6,1331.4 899.7,1365.1 900.8,1351.8 901.9,1377.5 903.0,1352.8 904.1,1342.9 905.2,1347.8 906.3,1350.2 907.4,1336.4 908.5,1338.3 909.6,1309.4 910.7,1303.6 911.8,1299.7 912.9,1299.4 914.0,1265.0 915.1,1251.7 916.2,1262.4 917.3,1257.2 918.4,1267.9 919.5,1264.7 920.6,1255.1 921.7,1269.3 922.8,1273.9 923.9,1281.5 925.0,1287.1 926.1,1285.2 927.2,1282.4 928.3,1314.9 929.4,1300.2 930.5,1333.8 931.6,1335.8 932.7,1314.0 933.8,1347.6 934.9,1349.0 936.0,1335.8 937.1,1355.0 938.2,1354.8 939.3,1308.0 940.4,1337.4 941.5,1326.0 942.6,1322.7 943.7,1327.2 944.8,1299.8 945.9,1298.5 947.0,1291.6 948.1,1289.3 949.2,1295.8 950.3,1272.0 951.4,1275.0 952.5,1296.7 953.6,1283.8 954.7,1287.8 955.8,1249.5 956.9,1263.3 958.0,1263.3 959.1,1268.9 960.2,1255.5 961.3,1275.7 962.4,1255.7 963.5,1251.9 964.6,1246.0 965.7,1249.5 966.8,1218.6 967.9,1233.3 969.0,1210.4 970.1,1193.1 971.2,1180.1 972.3,1180.0 973.4,1182.4 974.5,1174.3 975.6,1153.2 976.7,1144.1 977.8,1115.5 978.9,1122.1 980.0,1088.1 981.1,1039.7 982.2,1081.6 983.3,1037.8 984.4,991.3 985.5,988.9 986.6,966.2 987.7,980.1 988.8,951.3 989.9,918.2 991.0,923.8 992.1,900.1 993.2,907.2 994.3,864.2 995.4,838.0 996.5,845.1 997.6,825.7 998.7,809.7 999.8,778.7 1000.9,789.9 1002.0,789.8 1003.1,745.0 1004.2,765.7 1005.3,741.3 1006.4,763.3 1007.5,744.7 1008.6,743.5 1009.7,763.9 1010.8,775.1 1011.9,785.3 1013.0,812.6 1014.1,814.2 1015.2,815.4 1016.3,866.9 1017.4,863.7 1018.5,885.2 1019.6,918.9 1020.7,922.8 1021.8,945.2 1022.9,973.7 1024.0,995.0 1025.1,1022.6 1026.2,1055.8 1027.3,1067.3 1028.4,1111.3 1029.5,1131.9 1030.6,1117.1 1031.7,1151.9 1032.8,1150.1 1033.9,1198.4 1035.0,1197.8 1036.1,1198.6 1037.2,1183.2 1038.3,1215.6 1039.4,1207.8 1040.5,1239.1 1041.6,1231.6 1042.7,1226.2 1043.8,1260.2 1044.9,1262.1 1046.0,1245.9 1047.1,1278.9 1048.2,1260.4 1049.3,1264.9 1050.4,1275.8 1051.5,1265.8 1052.6,1274.3 1053.7,1281.7 1054.8,1308.3 1055.9,1305.1 1057.0,1273.0 1058.1,1297.3 1059.2,1268.5 1060.3,1274.6 1061.4,1282.1 1062.5,1272.6 1063.6,1306.2 1064.7,1272.7 1065.8,1251.4 1066.9,1292.3 1068.0,1267.8 1069.1,1273.3 1070.2,1236.4 1071.3,1302.4 1072.4,1303.7 1073.5,1307.4 1074.6,1314.3 1075.7,1329.1 1076.8,1307.8 1077.9,1327.0 1079.0,1308.2 1080.1,1320.1 1081.2,1346.3 1082.3,1342.1 1083.4,1322.0 1084.5,1347.9 1085.6,1342.1 1086.7,1334.9 1087.8,1353.7 1088.9,1343.5 1090.0,1328.7 1091.1,1336.1 1092.2,1376.3 1093.3,1332.5 1094.4,1356.9 1095.5,1362.9 1096.6,1364.0 1097.7,1339.4 1098.8,1352.3 1099.9,1359.1 1101.0,1368.6 1102.1,1349.8 1103.2,1343.4 1104.3,1373.1 1105.4,1375.0 1106.5,1365.6 1107.6,1353.0 1108.7,1367.0 1109.8,1363.3 1110.9,1373.3 1112.0,1345.6 1113.1,1363.9 1114.2,1360.3 1115.3,1347.5 1116.4,1365.1 1117.5,1362.5 1118.6,1356.4 1119.7,1366.9 1120.8,1342.4 1121.9,1360.3 1123.0,1366.4 1124.1,1364.1 1125.2,1374.3 1126.3,1343.3 1127.4,1338.7 1128.5,1361.5 1129.6,1363.4 1130.7,1384.7 1131.8,1362.9 1132.9,1341.1 1134.0,1362.2 1135.1,1337.8 1136.2,1327.1 1137.3,1381.7 1138.4,1348.4 1139.5,1351.9 1140.6,1347.8 1141.7,1363.2 1142.8,1339.6 1143.9,1350.5 1145.0,1316.4 1146.1,1308.6 1147.2,1346.4 1148.3,1344.5 1149.4,1327.8 1150.5,1320.8 1151.6,1316.8 1152.7,1300.9 1153.8,1330.4 1154.9,1314.0 1156.0,1308.2 1157.1,1302.6 1158.2,1308.3 1159.3,1295.0 1160.4,1293.5 1161.5,1259.2 1162.6,1281.8 1163.7,1306.3 1164.8,1263.5 1165.9,1269.3 1167.0,1285.0 1168.1,1285.9 1169.2,1280.5 1170.3,1245.1 1171.4,1278.2 1172.5,1251.4 1173.6,1256.6 1174.7,1277.6 1175.8,1263.6 1176.9,1280.3 1178.0,1316.6 1179.1,1278.7 1180.2,1277.5 1181.3,1251.8 1182.4,1256.0 1183.5,1249.7 1184.6,1258.5 1185.7,1250.2 1186.8,1257.7 1187.9,1265.4 1189.0,1253.7 1190.1,1247.8 1191.2,1249.3 1192.3,1278.5 1193.4,1273.1 1194.5,1289.1 1195.6,1290.5 1196.7,1270.2 1197.8,1287.7 1198.9,1257.8 1200.0,1318.6 1201.1,1305.7 1202.2,1288.5 1203.3,1278.8 1204.4,1307.0 1205.5,1279.9 1206.6,1303.1 1207.7,1332.1 1208.8,1327.9 1209.9,1324.2 1211.0,1348.4 1212.1,1324.0 1213.2,1345.8 1214.3,1338.0 1215.4,1336.2 1216.5,1357.1 1217.6,1340.2 1218.7,1382.3 1219.8,1351.5 1220.9,1388.6 1222.0,1350.2 1223.1,1375.3 1224.2,1354.3 1225.3,1355.3 1226.4,1377.7 1227.5,1387.6 1228.6,1365.9 1229.7,1400.6 1230.8,1379.0 1231.9,1394.0 1233.0,1400.1 1234.1,1405.4 1235.2,1378.4 1236.3,1422.1 1237.4,1411.1 1238.5,1401.0 1239.6,1395.5 1240.7,1389.1 1241.8,1394.7 1242.9,1418.8 1244.0,1409.6 1245.1,1401.6 1246.2,1410.0 1247.3,1435.6 1248.4,1414.5 1249.5,1412.5 1250.6,1435.9 1251.7,1426.4 1252.8,1422.3 1253.9,1415.6 1255.0,1405.6 1256.1,1410.9 1257.2,1419.7 1258.3,1423.8 1259.4,1431.5 1260.5,1435.1 1261.6,1433.0 1262.7,1434.8 1263.8,1423.0 1264.9,1412.3 1266.0,1432.4 1267.1,1429.6 1268.2,1434.7 1269.3,1440.5 1270.4,1431.4 1271.5,1433.9 1272.6,1445.6 1273.7,1448.6 1274.8,1441.1 1275.9,1454.1 1277.0,1447.1 1278.1,1439.2 1279.2,1451.0 1280.3,1471.0 1281.4,1444.5 1282.5,1464.4 1283.6,1467.0 1284.7,1468.7 1285.8,1444.8 1286.9,1474.9 1288.0,1455.4 1289.1,1451.9 1290.2,1452.5 1291.3,1461.6 1292.4,1456.2 1293.5,1454.2 1294.6,1469.7 1295.7,1449.3 1296.8,1446.3 1297.9,1465.7 1299.0,1465.1 1300.1,1469.4 1301.2,1447.4 1302.3,1469.9 1303.4,1464.0 1304.5,1477.5 1305.6,1446.9 1306.7,1462.2 1307.8,1457.4 1308.9,1444.2 1310.0,1453.4 1311.1,1472.5 1312.2,1456.4 1313.3,1454.0 1314.4,1470.4 1315.5,1471.8 1316.6,1471.9 1317.7,1454.0 1318.8,1461.6 1319.9,1472.8 1321.0,1455.8 1322.1,1455.0 1323.2,1471.2 1324.3,1478.8 1325.4,1451.3 1326.5,1436.8 1327.6,1448.6 1328.7,1453.1 1329.8,1462.1 1330.9,1469.8 1332.0,1462.2 1333.1,1456.6 1334.2,1465.3 1335.3,1454.0 1336.4,1463.3 1337.5,1457.3 1338.6,1490.9 1339.7,1472.1 1340.8,1455.4 1341.9,1453.7 1343.0,1459.4 1344.1,1447.2 1345.2,1456.4 1346.3,1456.3 1347.4,1472.7 1348.5,1459.5 1349.6,1455.8 1350.7,1450.2 1351.8,1451.9 1352.9,1463.1 1354.0,1461.6 1355.1,1475.3 1356.2,1457.4 1357.3,1474.5 1358.4,1466.4 1359.5,1463.7 1360.6,1443.5 1361.7,1450.7 1362.8,1471.2 1363.9,1477.8 1365.0,1465.6 1366.1,1471.2 1367.2,1459.2 1368.3,1459.4 1369.4,1456.4 1370.5,1472.8 1371.6,1466.3 1372.7,1460.3 1373.8,1459.2 1374.9,1468.0 1376.0,1465.5 1377.1,1453.6 1378.2,1479.4 1379.3,1464.4 1380.4,1461.7 1381.5,1476.5 1382.6,1471.7 1383.7,1460.2 1384.8,1466.4 1385.9,1449.8 1387.0,1454.0 1388.1,1437.3 1389.2,1472.7 1390.3,1440.5 1391.4,1466.8 1392.5,1451.0 1393.6,1449.3 1394.7,1457.1 1395.8,1461.5 1396.9,1464.8 1398.0,1476.5 1399.1,1461.6 1400.2,1466.7 1401.3,1451.0 1402.4,1464.3 1403.5,1458.0 1404.6,1451.2 1405.7,1454.5 1406.8,1454.3 1407.9,1456.3 1409.0,1457.8 1410.1,1447.5 1411.2,1444.3 1412.3,1459.1 1413.4,1432.3 1414.5,1442.7 1415.6,1464.8 1416.7,1418.1 1417.8,1438.4 1418.9,1452.0 1420.0,1425.3 1421.1,1469.7 1422.2,1410.5 1423.3,1452.2 1424.4,1450.7 1425.5,1440.5 1426.6,1424.3 1427.7,1427.5 1428.8,1409.4 1429.9,1425.0 1431.0,1397.4 1432.1,1402.6 1433.2,1413.7 1434.3,1384.1 1435.4,1390.3 1436.5,1393.8 1437.6,1372.2 1438.7,1401.7 1439.8,1390.3 1440.9,1367.0 1442.0,1386.1 1443.1,1377.7 1444.2,1380.4 1445.3,1390.9 1446.4,1382.5 1447.5,1404.9 1448.6,1386.0 1449.7,1409.4 1450.8,1399.9 1451.9,1414.2 1453.0,1400.9 1454.1,1404.8 1455.2,1400.4 1456.3,1423.5 1457.4,1430.0 1458.5,1446.0 1459.6,1438.5 1460.7,1428.6 1461.8,1425.5 1462.9,1434.3 1464.0,1431.7 1465.1,1450.4 1466.2,1446.6 1467.3,1429.1 1468.4,1433.1 1469.5,1457.8 1470.6,1448.7 1471.7,1445.3 1472.8,1462.8 1473.9,1448.4 1475.0,1451.7 1476.1,1451.8 1477.2,1438.2 1478.3,1468.8 1479.4,1448.9 1480.5,1456.9 1481.6,1456.4 1482.7,1472.5 1483.8,1465.6 1484.9,1467.5 1486.0,1451.5 1487.1,1468.2 1488.2,1455.0 1489.3,1473.1 1490.4,1474.1 1491.5,1470.7 1492.6,1491.3 1493.7,1476.7 1494.8,1477.7 1495.9,1473.5 1497.0,1470.5 1498.1,1482.1 1499.2,1483.7 1500.3,1460.4 1501.4,1483.6 1502.5,1478.5 1503.6,1483.1 1504.7,1478.4 1505.8,1461.9 1506.9,1462.8 1508.0,1492.1 1509.1,1476.9 1510.2,1460.9 1511.3,1478.2 1512.4,1471.4 1513.5,1457.2 1514.6,1453.0 1515.7,1459.8 1516.8,1478.1 1517.9,1475.1 1519.0,1473.2 1520.1,1478.5 1521.2,1481.6 1522.3,1455.6 1523.4,1473.1 1524.5,1468.1 1525.6,1464.3 1526.7,1471.0 1527.8,1475.2 1528.9,1473.9 1530.0,1462.6 1531.1,1472.1 1532.2,1496.2 1533.3,1466.8 1534.4,1460.8 1535.5,1479.8 1536.6,1483.1 1537.7,1481.9 1538.8,1466.9 1539.9,1487.3 1541.0,1470.4 1542.1,1467.2 1543.2,1472.4 1544.3,1477.3 1545.4,1485.3 1546.5,1484.5 1547.6,1478.5 1548.7,1487.7 1549.8,1479.6 1550.9,1487.5 1552.0,1465.6 1553.1,1464.0 1554.2,1486.4 1555.3,1465.7 1556.4,1476.1 1557.5,1478.1 1558.6,1474.3 1559.7,1474.7 1560.8,1492.3 1561.9,1454.9 1563.0,1487.4 1564.1,1500.9 1565.2,1479.2 1566.3,1478.8 1567.4,1485.9 1568.5,1496.4 1569.6,1467.7 1570.7,1479.8 1571.8,1477.2 1572.9,1484.3 1574.0,1480.5 1575.1,1485.3 1576.2,1475.0 1577.3,1479.4 1578.4,1472.5 1579.5,1472.5 1580.6,1477.4 1581.7,1477.3 1582.8,1467.3 1583.9,1493.4 1585.0,1477.0 1586.1,1464.9 1587.2,1488.5 1588.3,1470.7 1589.4,1482.6 1590.5,1477.4 1591.6,1479.8 1592.7,1478.9 1593.8,1471.7 1594.9,1477.5 1596.0,1496.6 1597.1,1455.5 1598.2,1477.6 1599.3,1481.2 1600.4,1466.8 1601.5,1463.8 1602.6,1497.7 1603.7,1473.4 1604.8,1496.9 1605.9,1482.1 1607.0,1477.6 1608.1,1481.5 1609.2,1483.0 1610.3,1488.2 1611.4,1481.1 1612.5,1478.3 1613.6,1478.6 1614.7,1489.9 1615.8,1484.7 1616.9,1467.2 1618.0,1470.7 1619.1,1480.0 1620.2,1470.8 1621.3,1473.1 1622.4,1467.5 1623.5,1474.1 1624.6,1480.6 1625.7,1486.0 1626.8,1476.4 1627.9,1496.2 1629.0,1475.3 1630.1,1506.8 1631.2,1485.5 1632.3,1480.5 1633.4,1470.7 1634.5,1448.1 1635.6,1473.8 1636.7,1476.9 1637.8,1493.7 1638.9,1461.5 1640.0,1493.3 1641.1,1472.3 1642.2,1481.6 1643.3,1449.8 1644.4,1475.7 1645.5,1470.9 1646.6,1480.8 1647.7,1475.0 1648.8,1462.9 1649.9,1483.1 1651.0,1480.6 1652.1,1479.5 1653.2,1483.4 1654.3,1484.2 1655.4,1473.2 1656.5,1460.0 1657.6,1459.6 1658.7,1486.2 1659.8,1479.8 1660.9,1473.7 1662.0,1468.3 1663.1,1472.7 1664.2,1472.5 1665.3,1468.7 1666.4,1465.0 1667.5,1492.8 1668.6,1473.6 1669.7,1465.1 1670.8,1458.0 1671.9,1463.3 1673.0,1477.3 1674.1,1477.4 1675.2,1467.4 1676.3,1469.8 1677.4,1465.9 1678.5,1457.6 1679.6,1481.2 1680.7,1471.7 1681.8,1492.3 1682.9,1459.8 1684.0,1465.6 1685.1,1475.5 1686.2,1464.0 1687.3,1452.2 1688.4,1456.3 1689.5,1466.6 1690.6,1468.7 1691.7,1464.0 1692.8,1474.8 1693.9,1474.4 1695.0,1467.3 1696.1,1464.0 1697.2,1460.8 1698.3,1468.6 1699.4,1471.9 1700.5,1462.7 1701.6,1466.2 1702.7,1457.8 1703.8,1446.0 1704.9,1449.4 1706.0,1466.8 1707.1,1462.6 1708.2,1473.6 1709.3,1456.7 1710.4,1464.1 1711.5,1467.9 1712.6,1463.4 1713.7,1445.5 1714.8,1448.8 1715.9,1450.9 1717.0,1437.7 1718.1,1451.9 1719.2,1456.5 1720.3,1438.8 1721.4,1464.0 1722.5,1438.0 1723.6,1437.5 1724.7,1435.7 1725.8,1429.1 1726.9,1440.1 1728.0,1434.3 1729.1,1451.2 1730.2,1437.9 1731.3,1435.6 1732.4,1425.3 1733.5,1409.9 1734.6,1423.1 1735.7,1412.2 1736.8,1430.7 1737.9,1416.6 1739.0,1433.9 1740.1,1420.2 1741.2,1418.8 1742.3,1409.0 1743.4,1406.4 1744.5,1409.8 1745.6,1411.4 1746.7,1389.6 1747.8,1402.6 1748.9,1427.3 1750.0,1392.0 1751.1,1388.4 1752.2,1381.6 1753.3,1371.0 1754.4,1403.4 1755.5,1388.8 1756.6,1391.8 1757.7,1411.3 1758.8,1419.6 1759.9,1376.8 1761.0,1401.3 1762.1,1395.9 1763.2,1393.0 1764.3,1394.0 1765.4,1387.7 1766.5,1408.1 1767.6,1395.7 1768.7,1392.1 1769.8,1403.1 1770.9,1398.1 1772.0,1392.0 1773.1,1389.7 1774.2,1407.3 1775.3,1391.0 1776.4,1383.1 1777.5,1373.1 1778.6,1379.7 1779.7,1370.9 1780.8,1385.8 1781.9,1388.0 1783.0,1359.0 1784.1,1385.5 1785.2,1393.8 1786.3,1387.9 1787.4,1373.9 1788.5,1402.1 1789.6,1377.2 1790.7,1370.3 1791.8,1372.0 1792.9,1385.4 1794.0,1397.8 1795.1,1400.0 1796.2,1387.7 1797.3,1369.9 1798.4,1376.9 1799.5,1374.4 1800.6,1384.3 1801.7,1365.2 1802.8,1390.2 1803.9,1398.2 1805.0,1390.5 1806.1,1401.3 1807.2,1388.0 1808.3,1385.9 1809.4,1399.5 1810.5,1423.8 1811.6,1424.4 1812.7,1408.9 1813.8,1430.3 1814.9,1414.2 1816.0,1437.3 1817.1,1426.9 1818.2,1417.7 1819.3,1433.7 1820.4,1417.3 1821.5,1417.1 1822.6,1412.9 1823.7,1433.8 1824.8,1431.8 1825.9,1433.0 1827.0,1430.8 1828.1,1452.7 1829.2,1433.6 1830.3,1431.8 1831.4,1454.8 1832.5,1458.1 1833.6,1447.9 1834.7,1427.1 1835.8,1440.9 1836.9,1455.5 1838.0,1450.7 1839.1,1468.4 1840.2,1439.2 1841.3,1462.1 1842.4,1450.0 1843.5,1471.6 1844.6,1458.6 1845.7,1471.5 1846.8,1455.8 1847.9,1449.7 1849.0,1454.2 1850.1,1460.6 1851.2,1457.7 1852.3,1480.8 1853.4,1483.0 1854.5,1473.2 1855.6,1461.0 1856.7,1470.7 1857.8,1465.8 1858.9,1487.3 1860.0,1476.8 1861.1,1479.0 1862.2,1470.9 1863.3,1455.8 1864.4,1468.3 1865.5,1465.4 1866.6,1480.2 1867.7,1478.0 1868.8,1469.7 1869.9,1474.0 1871.0,1493.1 1872.1,1469.2 1873.2,1469.8 1874.3,1476.6 1875.4,1472.3 1876.5,1475.1 1877.6,1484.4 1878.7,1495.9 1879.8,1462.6 1880.9,1479.5 1882.0,1480.2 1883.1,1479.1 1884.2,1478.2 1885.3,1476.9 1886.4,1489.7 1887.5,1475.8 1888.6,1479.1 1889.7,1480.4 1890.8,1481.5 1891.9,1479.0 1893.0,1490.1 1894.1,1480.7 1895.2,1482.5 1896.3,1480.4 1897.4,1471.5 1898.5,1473.3 1899.6,1471.3 1900.7,1483.2 1901.8,1474.8 1902.9,1471.6 1904.0,1484.0 1905.1,1486.9 1906.2,1465.5 1907.3,1498.1 1908.4,1482.6 1909.5,1481.4 1910.6,1492.6 1911.7,1483.3 1912.8,1477.1 1913.9,1503.4 1915.0,1472.8 1916.1,1482.0 1917.2,1490.9 1918.3,1473.0 1919.4,1482.0 1920.5,1486.6 1921.6,1505.5 1922.7,1474.6 1923.8,1482.6 1924.9,1489.2 1926.0,1483.8 1927.1,1471.7 1928.2,1486.8 1929.3,1484.0 1930.4,1487.2 1931.5,1493.6 1932.6,1492.5 1933.7,1486.8 1934.8,1485.9 1935.9,1472.7 1937.0,1481.7 1938.1,1485.1 1939.2,1479.2 1940.3,1483.9 1941.4,1475.2 1942.5,1497.4 1943.6,1503.1 1944.7,1479.2 1945.8,1486.5 1946.9,1480.4 1948.0,1494.3 1949.1,1486.4 1950.2,1482.9 1951.3,1479.9 1952.4,1483.0 1953.5,1472.3 1954.6,1487.9 1955.7,1474.7 1956.8,1486.4 1957.9,1482.4 1959.0,1491.5 1960.1,1480.9 1961.2,1490.7 1962.3,1472.3 1963.4,1486.8 1964.5,1478.9 1965.6,1482.8 1966.7,1481.7 1967.8,1489.9 1968.9,1461.9 1970.0,1484.1 1971.1,1466.9 1972.2,1492.4 1973.3,1462.3 1974.4,1471.5 1975.5,1465.2 1976.6,1496.5 1977.7,1468.8 1978.8,1482.1 1979.9,1475.9 1981.0,1464.0 1982.1,1477.8 1983.2,1487.3 1984.3,1479.3 1985.4,1489.9 1986.5,1477.5 1987.6,1480.9 1988.7,1477.1 1989.8,1483.9 1990.9,1498.5 1992.0,1483.8 1993.1,1482.1 1994.2,1474.2 1995.3,1472.8 1996.4,1493.7 1997.5,1469.1 1998.6,1470.8 1999.7,1478.5 2000.8,1475.2 2001.9,1497.8 2003.0,1456.5 2004.1,1482.5 2005.2,1485.8 2006.3,1468.3 2007.4,1472.9 2008.5,1483.1 2009.6,1494.5 2010.7,1470.2 2011.8,1463.9 2012.9,1488.3 2014.0,1493.5 2015.1,1475.8 2016.2,1457.9 2017.3,1492.8 2018.4,1477.1 2019.5,1489.7 2020.6,1478.6 2021.7,1475.4 2022.8,1474.7 2023.9,1493.1 2025.0,1492.7 2026.1,1458.6 2027.2,1470.1 2028.3,1495.9 2029.4,1475.4 2030.5,1465.9 2031.6,1478.8 2032.7,1477.6 2033.8,1477.5 2034.9,1473.6 2036.0,1475.0 2037.1,1473.4 2038.2,1480.7 2039.3,1469.4 2040.4,1474.2 2041.5,1475.3 2042.6,1489.0 2043.7,1479.7 2044.8,1474.7 2045.9,1480.7 2047.0,1479.1 2048.1,1485.5 2049.2,1479.6 2050.3,1491.8 2051.4,1487.2 2052.5,1473.4 2053.6,1469.4 2054.7,1481.8 2055.8,1477.9 2056.9,1471.6 2058.0,1457.7 2059.1,1453.8 2060.2,1474.9 2061.3,1478.7 2062.4,1478.7 2063.5,1457.7 2064.6,1480.3 2065.7,1464.4 2066.8,1473.2 2067.9,1473.1 2069.0,1460.6 2070.1,1462.4 2071.2,1447.3 2072.3,1458.5 2073.4,1449.3 2074.5,1471.3 2075.6,1467.3 2076.7,1475.5 2077.8,1469.6 2078.9,1459.3 2080.0,1468.9 2081.1,1461.1 2082.2,1470.9 2083.3,1467.6 2084.4,1454.1 2085.5,1463.8 2086.6,1464.0 2087.7,1460.0 2088.8,1471.9 2089.9,1479.9 2091.0,1458.4 2092.1,1458.2 2093.2,1438.5 2094.3,1459.7 2095.4,1456.2 2096.5,1438.2 2097.6,1462.9 2098.7,1465.6 2099.8,1451.6 2100.9,1455.0 2102.0,1448.5 2103.1,1465.9 2104.2,1442.0 2105.3,1454.0 2106.4,1477.1" fill="none" stroke="#000" stroke-opacity="0.7" stroke-width="1.2"/></g>
<line x1="501.55" y1="1601" x2="501.55" y2="1141" stroke="#ff8a8a" stroke-width="12.70" stroke-dasharray="18.5 9" stroke-dashoffset="24.0"/><line x1="499.45" y1="1601" x2="499.45" y2="1141" stroke="#ff0000" stroke-width="8.50" stroke-dasharray="18.5 9" stroke-dashoffset="24.0"/><line x1="918.90" y1="1601" x2="918.90" y2="1263" stroke="#ff8a8a" stroke-width="12.20" stroke-dasharray="18.5 9" stroke-dashoffset="11.5"/><line x1="916.50" y1="1601" x2="916.50" y2="1263" stroke="#ff0000" stroke-width="7.00" stroke-dasharray="18.5 9" stroke-dashoffset="11.5"/><line x1="1011.10" y1="1601" x2="1004.10" y2="789" stroke="#8a8aff" stroke-width="13.00" stroke-dasharray="18.5 9" stroke-dashoffset="3.5"/><line x1="1008.80" y1="1601" x2="1001.80" y2="789" stroke="#0000ff" stroke-width="7.60" stroke-dasharray="18.5 9" stroke-dashoffset="3.5"/><line x1="1066.10" y1="1601" x2="1066.10" y2="1263" stroke="#ff8a8a" stroke-width="13.20" stroke-dasharray="18.5 9" stroke-dashoffset="8.5"/><line x1="1062.75" y1="1601" x2="1062.75" y2="1263" stroke="#ff0000" stroke-width="5.50" stroke-dasharray="18.5 9" stroke-dashoffset="8.5"/><line x1="1182.55" y1="1601" x2="1182.55" y2="1260" stroke="#8a8aff" stroke-width="10.30" stroke-dasharray="18.5 9" stroke-dashoffset="8.5"/><line x1="1181.75" y1="1601" x2="1181.75" y2="1260" stroke="#0000ff" stroke-width="4.50" stroke-dasharray="18.5 9" stroke-dashoffset="8.5"/><line x1="1445.00" y1="1601" x2="1445.00" y2="1379" stroke="#ff8a8a" stroke-width="10.00" stroke-dasharray="18.5 9" stroke-dashoffset="18.5"/><line x1="1443.75" y1="1601" x2="1443.75" y2="1379" stroke="#ff0000" stroke-width="4.50" stroke-dasharray="18.5 9" stroke-dashoffset="18.5"/><line x1="1779.40" y1="1601" x2="1779.40" y2="1381" stroke="#8a8aff" stroke-width="10.20" stroke-dasharray="18.5 9" stroke-dashoffset="18.5"/><line x1="1777.15" y1="1601" x2="1777.15" y2="1381" stroke="#0000ff" stroke-width="5.70" stroke-dasharray="18.5 9" stroke-dashoffset="18.5"/><rect x="442.4" y="1606" width="5" height="29" fill="#000"/><rect x="447.4" y="1609" width="3" height="26" fill="#e6e6e6"/><rect x="720.2" y="1606" width="5" height="29" fill="#000"/><rect x="725.2" y="1609" width="3" height="26" fill="#e6e6e6"/><rect x="998.1" y="1606" width="5" height="29" fill="#000"/><rect x="1003.1" y="1609" width="3" height="26" fill="#e6e6e6"/><rect x="1275.9" y="1606" width="5" height="29" fill="#000"/><rect x="1280.9" y="1609" width="3" height="26" fill="#e6e6e6"/><rect x="1553.8" y="1606" width="5" height="29" fill="#000"/><rect x="1558.8" y="1609" width="3" height="26" fill="#e6e6e6"/><rect x="1831.7" y="1606" width="5" height="29" fill="#000"/><rect x="1836.7" y="1609" width="3" height="26" fill="#e6e6e6"/><rect x="303.4" y="1606" width="5" height="15" fill="#000"/><rect x="308.4" y="1609" width="3" height="12" fill="#e6e6e6"/><rect x="581.3" y="1606" width="5" height="15" fill="#000"/><rect x="586.3" y="1609" width="3" height="12" fill="#e6e6e6"/><rect x="859.2" y="1606" width="5" height="15" fill="#000"/><rect x="864.2" y="1609" width="3" height="12" fill="#e6e6e6"/><rect x="1137.0" y="1606" width="5" height="15" fill="#000"/><rect x="1142.0" y="1609" width="3" height="12" fill="#e6e6e6"/><rect x="1414.9" y="1606" width="5" height="15" fill="#000"/><rect x="1419.9" y="1609" width="3" height="12" fill="#e6e6e6"/><rect x="1692.7" y="1606" width="5" height="15" fill="#000"/><rect x="1697.7" y="1609" width="3" height="12" fill="#e6e6e6"/><rect x="1970.6" y="1606" width="5" height="15" fill="#000"/><rect x="1975.6" y="1609" width="3" height="12" fill="#e6e6e6"/>

<text transform="translate(906.44,732.00) scale(1.0605,1.0000)" style="font-family:'Liberation Serif','Noto Serif CJK SC',serif;font-weight:bold;font-size:60px;fill:#0000ff">Pd(111)</text><text transform="translate(1096.98,1231.00) scale(1.0204,1.0000)" style="font-family:'Liberation Serif','Noto Serif CJK SC',serif;font-weight:bold;font-size:60px;fill:#0000ff">Pd(200)</text><text transform="translate(1678.48,1356.00) scale(1.0153,1.0000)" style="font-family:'Liberation Serif','Noto Serif CJK SC',serif;font-weight:bold;font-size:60px;fill:#0000ff">Pd(220)</text><text transform="translate(330.00,1091.00) scale(1.0668,1.0000)" style="font-family:'Liberation Serif','Noto Serif CJK SC',serif;font-weight:bold;font-size:59px;fill:#ff0000"><tspan style="font-style:italic">γ</tspan>-MnO<tspan style="font-size:66px" dy="21">2</tspan><tspan dy="-21">(101)</tspan></text><text transform="translate(659.00,1213.60) scale(0.9646,1.0000)" style="font-family:'Liberation Serif','Noto Serif CJK SC',serif;font-weight:bold;font-size:55px;fill:#ff0000"><tspan style="font-style:italic">γ</tspan>-MnO<tspan style="font-size:55px" dy="8">2</tspan><tspan dy="-8">(210)</tspan></text><text transform="translate(1041.50,1087.50) scale(1.0354,1.0000)" style="font-family:'Liberation Serif','Noto Serif CJK SC',serif;font-weight:bold;font-size:60px;fill:#ff0000"><tspan style="font-style:italic">γ</tspan>-MnO<tspan style="font-size:66px" dy="14">2</tspan><tspan dy="-14">(211)</tspan></text><text transform="translate(1264.00,1360.40) scale(1.0445,1.0000)" style="font-family:'Liberation Serif','Noto Serif CJK SC',serif;font-weight:bold;font-size:59px;fill:#ff0000"><tspan style="font-style:italic">γ</tspan>-MnO<tspan style="font-size:66px" dy="17.5">2</tspan><tspan dy="-17.5">(212)</tspan></text><text transform="translate(899.32,1821.00) scale(1.0593,1.0000)" style="font-family:'Liberation Serif','Noto Serif CJK SC',serif;font-weight:bold;font-size:80px;fill:#000">2θ</text><text transform="translate(961.20,1820.88) scale(1.4000,0.9478)" style="font-family:'Liberation Serif','Noto Serif CJK SC',serif;font-weight:normal;font-size:72px;fill:#000">（</text><text transform="translate(1066.40,1822.11) scale(1.0341,0.9933)" style="font-family:'Liberation Serif','Noto Serif CJK SC',serif;font-weight:bold;font-size:80px;fill:#000">degree</text><text transform="translate(1298.75,1818.60) scale(1.4500,0.9851)" style="font-family:'Liberation Serif','Noto Serif CJK SC',serif;font-weight:normal;font-size:72px;fill:#000">）</text><text transform="translate(107.18,1121.58) rotate(-90) scale(1.0268,1.0481)" style="font-family:'Liberation Serif','Noto Serif CJK SC',serif;font-weight:bold;font-size:80px;fill:#000">Intensity</text><text transform="translate(101.09,822.77) rotate(-90) scale(1.2055,0.9866)" style="font-family:'Liberation Serif','Noto Serif CJK SC',serif;font-weight:normal;font-size:72px;fill:#000">（</text><text transform="translate(104.99,729.91) rotate(-90) scale(1.0067,1.0053)" style="font-family:'Liberation Serif','Noto Serif CJK SC',serif;font-weight:bold;font-size:80px;fill:#000">a.u.</text><text transform="translate(101.09,601.17) rotate(-90) scale(1.4278,0.9866)" style="font-family:'Liberation Serif','Noto Serif CJK SC',serif;font-weight:normal;font-size:72px;fill:#000">）</text><text transform="translate(167.00,1707.00) scale(1.0600,1.0000)" style="font-family:'Liberation Serif','Noto Serif CJK SC',serif;font-weight:bold;font-size:66px;fill:#000" text-anchor="middle">10</text><text transform="translate(444.86,1707.00) scale(1.0600,1.0000)" style="font-family:'Liberation Serif','Noto Serif CJK SC',serif;font-weight:bold;font-size:66px;fill:#000" text-anchor="middle">20</text><text transform="translate(722.72,1707.00) scale(1.0600,1.0000)" style="font-family:'Liberation Serif','Noto Serif CJK SC',serif;font-weight:bold;font-size:66px;fill:#000" text-anchor="middle">30</text><text transform="translate(1000.58,1707.00) scale(1.0600,1.0000)" style="font-family:'Liberation Serif','Noto Serif CJK SC',serif;font-weight:bold;font-size:66px;fill:#000" text-anchor="middle">40</text><text transform="translate(1278.44,1707.00) scale(1.0600,1.0000)" style="font-family:'Liberation Serif','Noto Serif CJK SC',serif;font-weight:bold;font-size:66px;fill:#000" text-anchor="middle">50</text><text transform="translate(1556.30,1707.00) scale(1.0600,1.0000)" style="font-family:'Liberation Serif','Noto Serif CJK SC',serif;font-weight:bold;font-size:66px;fill:#000" text-anchor="middle">60</text><text transform="translate(1834.16,1707.00) scale(1.0600,1.0000)" style="font-family:'Liberation Serif','Noto Serif CJK SC',serif;font-weight:bold;font-size:66px;fill:#000" text-anchor="middle">70</text><text transform="translate(2112.02,1707.00) scale(1.0600,1.0000)" style="font-family:'Liberation Serif','Noto Serif CJK SC',serif;font-weight:bold;font-size:66px;fill:#000" text-anchor="middle">80</text>
<line x1="1067" y1="1240" x2="1093" y2="1150" stroke="#ff3c3c" stroke-width="3.6" stroke-dasharray="5 3"/><polygon points="1106.5,1104 1085.5,1142 1107.5,1148" fill="#ff0000"/>
</svg></body></html>
